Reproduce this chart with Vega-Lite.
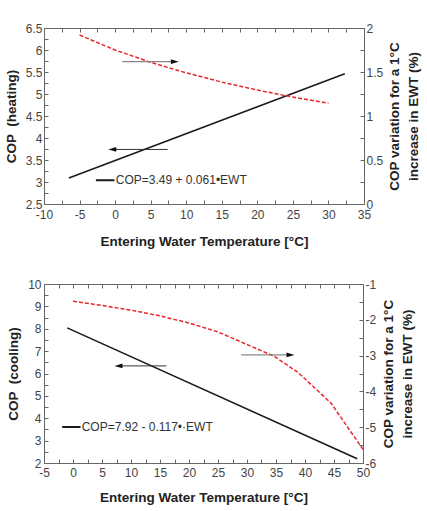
{
  "$schema": "https://vega.github.io/schema/vega-lite/v6.json",
  "background": "white",
  "padding": {"left": 4, "top": 22, "right": 4, "bottom": 4},
  "autosize": {"type": "pad"},
  "bounds": "flush",
  "spacing": 80,
  "config": {
    "view": {"stroke": null},
    "axis": {
      "labelFont": "Liberation Sans", "labelFontSize": 12, "labelColor": "#444",
      "titleFont": "Liberation Sans", "titleFontSize": 13.5, "titleFontWeight": "bold", "titleColor": "#222",
      "domainColor": "#666", "tickColor": "#666", "tickSize": -4, "labelPadding": 7, "tickCount": 100,
      "grid": false, "labelFlush": false, "labelOverlap": false, "labelBound": false
    },
    "text": {"font": "Liberation Sans"}
  },
  "datasets": {
    "heat_cop": [{"ewt": -6.5, "cop": 3.09}, {"ewt": 32.3, "cop": 5.46}],
    "heat_var": [
      {"ewt": -5, "pct": 1.92}, {"ewt": 0, "pct": 1.75}, {"ewt": 5, "pct": 1.61},
      {"ewt": 10, "pct": 1.49}, {"ewt": 15, "pct": 1.385}, {"ewt": 20, "pct": 1.295},
      {"ewt": 25, "pct": 1.215}, {"ewt": 30, "pct": 1.145}
    ],
    "heat_arrow_left": [{"from": 7.4, "to": -0.4, "y": 3.74}],
    "heat_arrow_right": [{"from": 1.0, "to": 8.4, "y": 1.617}],
    "heat_legend": [{"x1": -2.7, "x2": -0.1, "xt": 0.1, "y": 3.04, "label": "COP=3.49 + 0.061•EWT"}],
    "cool_cop": [{"ewt": -1.0, "cop": 8.04}, {"ewt": 49.0, "cop": 2.19}],
    "cool_var": [
      {"ewt": 0, "pct": -1.48}, {"ewt": 5, "pct": -1.60}, {"ewt": 10, "pct": -1.73},
      {"ewt": 15, "pct": -1.89}, {"ewt": 20, "pct": -2.09}, {"ewt": 25, "pct": -2.34},
      {"ewt": 29, "pct": -2.62}, {"ewt": 34.7, "pct": -3.02}, {"ewt": 38.8, "pct": -3.47},
      {"ewt": 44.5, "pct": -4.33}, {"ewt": 50, "pct": -5.62}
    ],
    "cool_arrow_left": [{"from": 16.1, "to": 7.85, "y": 6.34}],
    "cool_arrow_right": [{"from": 29.0, "to": 37.5, "y": -2.98}],
    "cool_legend": [{"x1": -1.87, "x2": 1.3, "xt": 1.5, "y": 3.61, "label": "COP=7.92 - 0.117•·EWT"}]
  },
  "vconcat": [
    {
      "width": 320, "height": 176,
      "resolve": {"scale": {"y": "independent"}, "axis": {"x": "independent", "y": "independent"}},
      "layer": [
        {
          "layer": [
            {
              "data": {"name": "heat_cop"},
              "mark": {"type": "line", "color": "#1a1a1a", "strokeWidth": 1.6},
              "encoding": {
                "x": {"field": "ewt", "type": "quantitative",
                  "scale": {"domain": [-10, 35], "nice": false, "zero": false},
                  "axis": {"orient": "bottom", "title": "Entering Water Temperature [°C]", "titlePadding": 14,
                    "tickCount": 100, "labelPadding": 9,
                    "values": [-10,-7.5,-5,-2.5,0,2.5,5,7.5,10,12.5,15,17.5,20,22.5,25,27.5,30,32.5,35],
                    "labelExpr": "datum.value % 5 === 0 ? '' + datum.value : ''"}},
                "y": {"field": "cop", "type": "quantitative",
                  "scale": {"domain": [2.5, 6.5], "nice": false, "zero": false},
                  "axis": {"orient": "left", "title": "COP \u00a0(heating)", "titlePadding": 7,
                    "tickCount": 100, "labelPadding": 6,
                    "values": [2.5,2.75,3,3.25,3.5,3.75,4,4.25,4.5,4.75,5,5.25,5.5,5.75,6,6.25,6.5],
                    "labelExpr": "(datum.value * 2) % 1 === 0 ? '' + datum.value : ''"}}
              }
            },
            {
              "data": {"name": "heat_arrow_left"},
              "mark": {"type": "rule", "color": "#333", "strokeWidth": 1},
              "encoding": {
                "x": {"field": "from", "type": "quantitative"},
                "x2": {"field": "to"},
                "y": {"field": "y", "type": "quantitative"}
              }
            },
            {
              "data": {"name": "heat_arrow_left"},
              "mark": {"type": "point", "shape": "M-1,0L1,-0.6L1,0.6Z", "filled": true, "color": "#111", "size": 64, "opacity": 1},
              "encoding": {
                "x": {"field": "to", "type": "quantitative"},
                "y": {"field": "y", "type": "quantitative"}
              }
            },
            {
              "data": {"name": "heat_legend"},
              "mark": {"type": "rule", "color": "#1a1a1a", "strokeWidth": 2},
              "encoding": {
                "x": {"field": "x1", "type": "quantitative"},
                "x2": {"field": "x2"},
                "y": {"field": "y", "type": "quantitative"}
              }
            },
            {
              "data": {"name": "heat_legend"},
              "mark": {"type": "text", "align": "left", "baseline": "middle", "fontSize": 12, "color": "#333"},
              "encoding": {
                "x": {"field": "xt", "type": "quantitative"},
                "y": {"field": "y", "type": "quantitative"},
                "text": {"field": "label"}
              }
            }
          ]
        },
        {
          "layer": [
            {
              "data": {"name": "heat_var"},
              "mark": {"type": "line", "color": "#e8262b", "strokeWidth": 1.5, "strokeDash": [4, 2]},
              "encoding": {
                "x": {"field": "ewt", "type": "quantitative",
                  "scale": {"domain": [-10, 35], "nice": false, "zero": false},
                  "axis": {"orient": "top", "title": null, "labels": false, "tickCount": 100,
                    "values": [-10,-7.5,-5,-2.5,0,2.5,5,7.5,10,12.5,15,17.5,20,22.5,25,27.5,30,32.5,35]}},
                "y": {"field": "pct", "type": "quantitative",
                  "scale": {"domain": [0, 2], "nice": false, "zero": false},
                  "axis": {"orient": "right", "title": ["COP variation for a 1°C", "increase in EWT (%)"],
                    "titleAngle": 270, "titlePadding": 0, "labelPadding": 6, "titleLineHeight": 19,
                    "tickCount": 100,
                    "values": [0,0.25,0.5,0.75,1,1.25,1.5,1.75,2],
                    "labelExpr": "(datum.value * 2) % 1 === 0 ? '' + datum.value : ''"}}
              }
            },
            {
              "data": {"name": "heat_arrow_right"},
              "mark": {"type": "rule", "color": "#888", "strokeWidth": 1.2},
              "encoding": {
                "x": {"field": "from", "type": "quantitative"},
                "x2": {"field": "to"},
                "y": {"field": "y", "type": "quantitative"}
              }
            },
            {
              "data": {"name": "heat_arrow_right"},
              "mark": {"type": "point", "shape": "M1,0L-1,-0.6L-1,0.6Z", "filled": true, "color": "#111", "size": 64, "opacity": 1},
              "encoding": {
                "x": {"field": "to", "type": "quantitative"},
                "y": {"field": "y", "type": "quantitative"}
              }
            }
          ]
        }
      ]
    },
    {
      "width": 319, "height": 179,
      "resolve": {"scale": {"y": "independent"}, "axis": {"x": "independent", "y": "independent"}},
      "layer": [
        {
          "layer": [
            {
              "data": {"name": "cool_cop"},
              "mark": {"type": "line", "color": "#1a1a1a", "strokeWidth": 1.6},
              "encoding": {
                "x": {"field": "ewt", "type": "quantitative",
                  "scale": {"domain": [-5, 50], "nice": false, "zero": false},
                  "axis": {"orient": "bottom", "title": "Entering Water Temperature [°C]", "titlePadding": 12,
                    "tickCount": 100, "labelPadding": 8,
                    "values": [-5,-2.5,0,2.5,5,7.5,10,12.5,15,17.5,20,22.5,25,27.5,30,32.5,35,37.5,40,42.5,45,47.5,50],
                    "labelExpr": "datum.value % 5 === 0 ? '' + datum.value : ''"}},
                "y": {"field": "cop", "type": "quantitative",
                  "scale": {"domain": [2, 10], "nice": false, "zero": false},
                  "axis": {"orient": "left", "title": "COP \u00a0(cooling)", "titlePadding": 7,
                    "tickCount": 100, "labelPadding": 7,
                    "values": [2,2.5,3,3.5,4,4.5,5,5.5,6,6.5,7,7.5,8,8.5,9,9.5,10],
                    "labelExpr": "datum.value % 1 === 0 ? '' + datum.value : ''"}}
              }
            },
            {
              "data": {"name": "cool_arrow_left"},
              "mark": {"type": "rule", "color": "#333", "strokeWidth": 1},
              "encoding": {
                "x": {"field": "from", "type": "quantitative"},
                "x2": {"field": "to"},
                "y": {"field": "y", "type": "quantitative"}
              }
            },
            {
              "data": {"name": "cool_arrow_left"},
              "mark": {"type": "point", "shape": "M-1,0L1,-0.6L1,0.6Z", "filled": true, "color": "#111", "size": 64, "opacity": 1},
              "encoding": {
                "x": {"field": "to", "type": "quantitative"},
                "y": {"field": "y", "type": "quantitative"}
              }
            },
            {
              "data": {"name": "cool_legend"},
              "mark": {"type": "rule", "color": "#1a1a1a", "strokeWidth": 2},
              "encoding": {
                "x": {"field": "x1", "type": "quantitative"},
                "x2": {"field": "x2"},
                "y": {"field": "y", "type": "quantitative"}
              }
            },
            {
              "data": {"name": "cool_legend"},
              "mark": {"type": "text", "align": "left", "baseline": "middle", "fontSize": 12, "color": "#333"},
              "encoding": {
                "x": {"field": "xt", "type": "quantitative"},
                "y": {"field": "y", "type": "quantitative"},
                "text": {"field": "label"}
              }
            }
          ]
        },
        {
          "layer": [
            {
              "data": {"name": "cool_var"},
              "mark": {"type": "line", "color": "#e8262b", "strokeWidth": 1.5, "strokeDash": [4, 2]},
              "encoding": {
                "x": {"field": "ewt", "type": "quantitative",
                  "scale": {"domain": [-5, 50], "nice": false, "zero": false},
                  "axis": {"orient": "top", "title": null, "labels": false, "tickCount": 100,
                    "values": [-5,-2.5,0,2.5,5,7.5,10,12.5,15,17.5,20,22.5,25,27.5,30,32.5,35,37.5,40,42.5,45,47.5,50]}},
                "y": {"field": "pct", "type": "quantitative",
                  "scale": {"domain": [-6, -1], "nice": false, "zero": false},
                  "axis": {"orient": "right", "title": ["COP variation for a 1°C", "increase in EWT (%)"],
                    "titleAngle": 270, "titlePadding": 1, "labelPadding": 6, "titleLineHeight": 19,
                    "tickCount": 100,
                    "values": [-6,-5.5,-5,-4.5,-4,-3.5,-3,-2.5,-2,-1.5,-1],
                    "labelExpr": "datum.value % 1 === 0 ? '' + datum.value : ''"}}
              }
            },
            {
              "data": {"name": "cool_arrow_right"},
              "mark": {"type": "rule", "color": "#888", "strokeWidth": 1.2},
              "encoding": {
                "x": {"field": "from", "type": "quantitative"},
                "x2": {"field": "to"},
                "y": {"field": "y", "type": "quantitative"}
              }
            },
            {
              "data": {"name": "cool_arrow_right"},
              "mark": {"type": "point", "shape": "M1,0L-1,-0.6L-1,0.6Z", "filled": true, "color": "#111", "size": 64, "opacity": 1},
              "encoding": {
                "x": {"field": "to", "type": "quantitative"},
                "y": {"field": "y", "type": "quantitative"}
              }
            }
          ]
        }
      ]
    }
  ]
}
